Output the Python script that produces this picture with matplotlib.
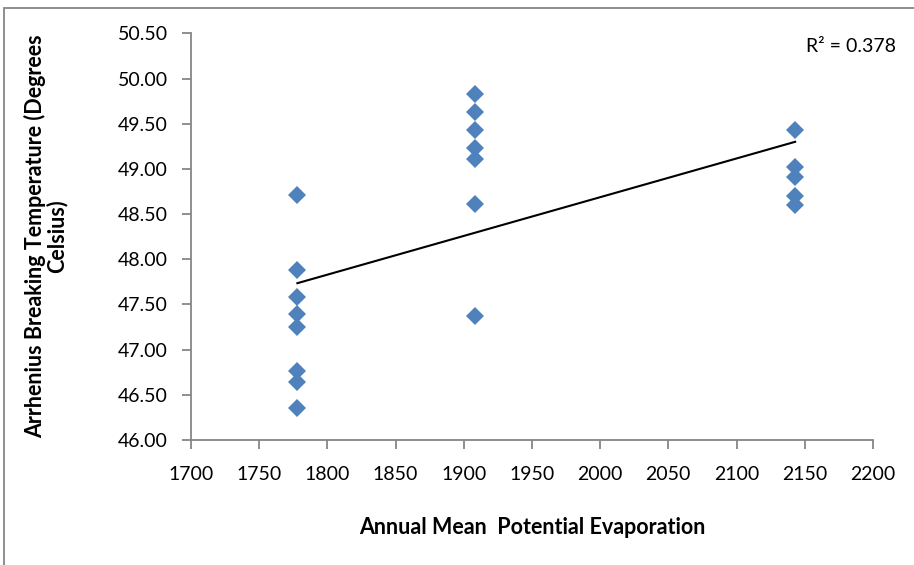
import numpy as np
import matplotlib.pyplot as plt
from matplotlib.patches import Rectangle

plt.rcParams['font.family'] = ['Lato', 'DejaVu Sans']

# evaporation sites and measured breaking temperatures
evap_1778 = [1778] * 8
temp_1778 = [48.71, 47.88, 47.58, 47.39, 47.25, 46.76, 46.64, 46.35]
evap_1908 = [1908] * 7
temp_1908 = [49.83, 49.63, 49.43, 49.23, 49.11, 48.61, 47.37]
evap_2143 = [2143] * 5
temp_2143 = [49.43, 49.02, 48.91, 48.70, 48.60]

x_ticks = [1700, 1750, 1800, 1850, 1900, 1950, 2000, 2050, 2100, 2150, 2200]
y_ticks = [46.0, 46.5, 47.0, 47.5, 48.0, 48.5, 49.0, 49.5, 50.0, 50.5]
r2_label = "R\u00b2 = 0.378"

x = np.array(evap_1778 + evap_1908 + evap_2143, dtype=float)
y = np.array(temp_1778 + temp_1908 + temp_2143)

fig = plt.figure(figsize=(9.14, 5.65), dpi=100)
ax = fig.add_axes([0.209, 0.2212, 0.746, 0.7198])

ax.plot(x, y, linestyle='none', marker='D', markersize=9,
        color='#4F81BD', markeredgewidth=0, zorder=3)

# linear trendline across the data range
slope, icpt = np.polyfit(x, y, 1)
xs = np.array([x.min(), x.max()])
ax.plot(xs, slope * xs + icpt, color='black', linewidth=1.5, zorder=4)

ax.set_xlim(1700, 2200)
ax.set_ylim(46.0, 50.5)
ax.set_xticks(x_ticks)
ax.set_yticks(y_ticks)
ax.set_yticklabels([f"{v:.2f}" for v in y_ticks])

for side in ['top', 'right']:
    ax.spines[side].set_visible(False)
for side in ['left', 'bottom']:
    ax.spines[side].set_color('#868686')
    ax.spines[side].set_linewidth(1.3)
ax.tick_params(direction='out', length=6.5, width=1.3, color='#868686',
               labelsize=14, pad=10)
ax.tick_params(axis='x', pad=12)

ax.set_xlabel("Annual Mean  Potential Evaporation", fontsize=15.5,
              fontweight='bold', labelpad=25)
ax.set_ylabel("Arrhenius Breaking Temperature (Degrees\nCelsius)",
              fontsize=15.5, fontweight='bold', labelpad=36, linespacing=1.0)

fig.text(0.931, 0.917, r2_label, fontsize=14, ha='center', va='center')

# chart border
fig.patches.append(Rectangle((4 / 914, -0.05), 1.0, 1.0 - 8 / 565 + 0.05,
                             transform=fig.transFigure, fill=False,
                             edgecolor='#868686', linewidth=1.3))

fig.savefig("out.png", dpi=100)
